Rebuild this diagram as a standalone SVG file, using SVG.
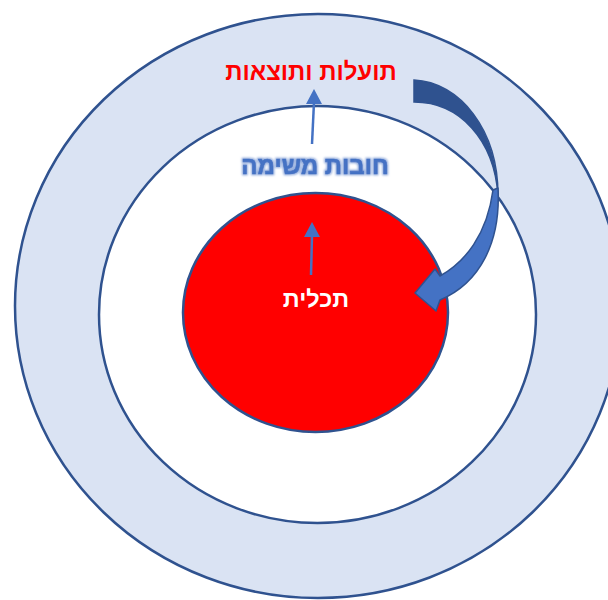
<svg xmlns="http://www.w3.org/2000/svg" width="608" height="600" viewBox="0 0 608 600">
  <defs>
    <style>
      .ring { stroke: #2F528F; stroke-width: 2.5; }
      .lbl { font-family: "Liberation Sans", "DejaVu Sans", Arial, sans-serif; font-weight: bold; text-anchor: middle; }
      .conn { stroke: #4472C4; stroke-width: 2.5; fill: none; }
      .head { fill: #4472C4; }
    </style>
    <filter id="glow" x="-20%" y="-50%" width="140%" height="200%">
      <feMorphology in="SourceAlpha" operator="dilate" radius="0.8" result="d"/>
      <feGaussianBlur in="d" stdDeviation="0.9" result="b"/>
      <feFlood flood-color="#8EA9DB" result="c"/>
      <feComposite in="c" in2="b" operator="in" result="g"/>
      <feMerge>
        <feMergeNode in="g"/>
        <feMergeNode in="SourceGraphic"/>
      </feMerge>
    </filter>
  </defs>
  <rect width="608" height="600" fill="#FFFFFF"/>

  <g id="outer">
    <ellipse class="ring" cx="318" cy="306" rx="303" ry="292" fill="#DAE3F3"/>
    <text class="lbl" x="311" y="80" font-size="24" fill="#FF0000">תועלות ותוצאות</text>
  </g>

  <g id="middle">
    <ellipse class="ring" cx="317.5" cy="314.5" rx="218.5" ry="208.5" fill="#FFFFFF"/>
    <text class="lbl" x="315" y="174" font-size="24" fill="#4472C4" stroke="#4472C4" stroke-width="0.6" filter="url(#glow)">חובות משימה</text>
  </g>

  <g id="inner">
    <ellipse class="ring" cx="315.5" cy="312.5" rx="132.5" ry="119.5" fill="#FF0000"/>
    <text class="lbl" x="316" y="307" font-size="23.5" fill="#FFFFFF">תכלית</text>
  </g>

  <g id="connectors">
    <line class="conn" x1="312" y1="144" x2="314" y2="102"/>
    <polygon class="head" points="314,89 322,104 306,104"/>
    <line class="conn" x1="311" y1="275" x2="312" y2="235"/>
    <polygon class="head" points="312,222 320,237 304,237"/>
    <path d="M414,80 C460,82 498,130 498,195 C494,140 460,102 414,102 Z" fill="#2F528F" stroke="#2F528F" stroke-width="1.5"/>
    <path d="M498,188 C501,242 480,283 440,300 L436,311 L415,293 L435,269 L440,276 C465,262 487,235 493,190 Z" fill="#4472C4" stroke="#2F528F" stroke-width="1.5" stroke-linejoin="round"/>
  </g>
</svg>
